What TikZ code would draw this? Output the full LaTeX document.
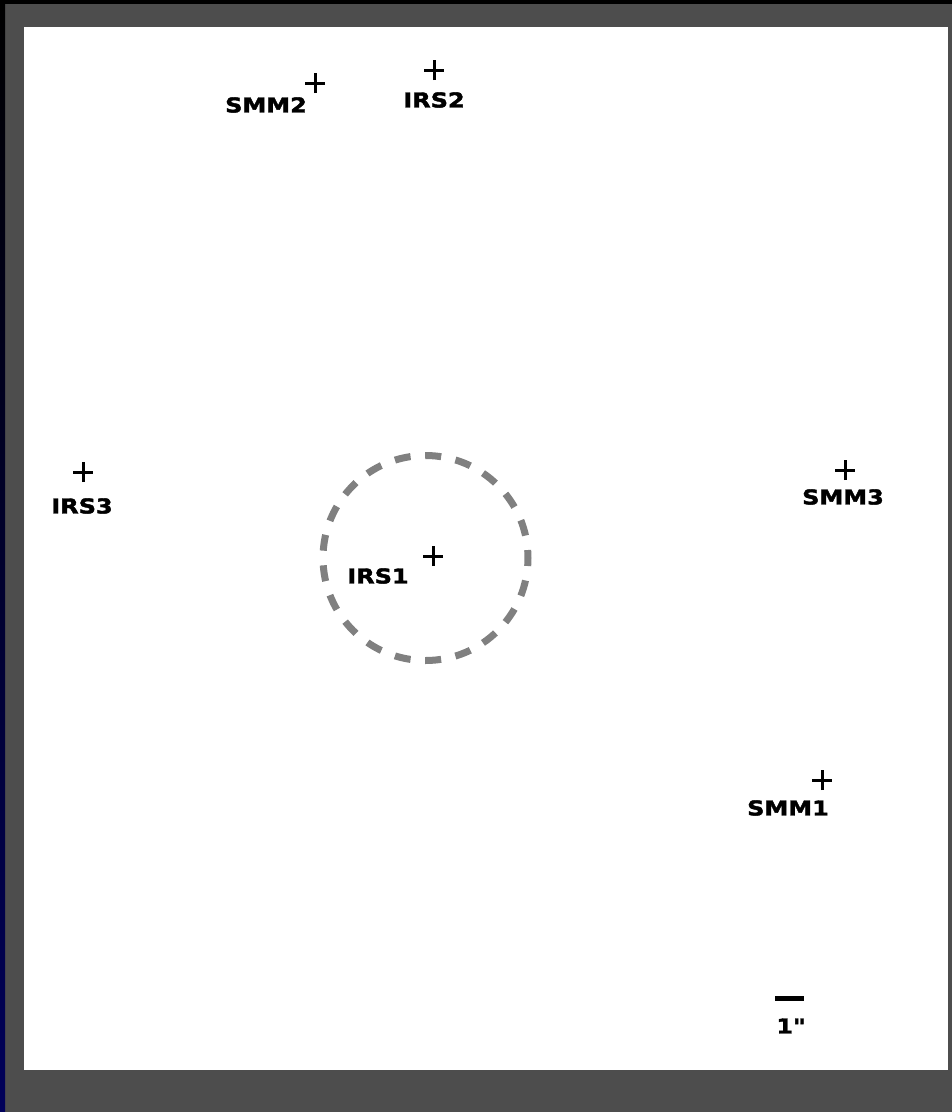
\documentclass[tikz,border=0pt]{standalone}
\usepackage{fontspec}
\newfontfamily\lblfont[FakeStretch=1.17,FakeBold=2]{DejaVu Sans Bold}
\definecolor{frame}{HTML}{4D4D4D}
\definecolor{ringgray}{HTML}{808080}
\begin{document}
\begin{tikzpicture}[x=1pt,y=-1pt,
  lbl/.style={font=\lblfont\fontsize{20.5}{20.5}\selectfont, inner sep=0pt, text=black},
  crossmark/.style={line width=3pt, black}]
\useasboundingbox (0,0) rectangle (952,1112);
\fill[frame] (0,0) rectangle (952,1112);
\fill[black] (0,0) rectangle (952,4);
\shade[top color=black, bottom color={rgb,255:red,0;green,0;blue,90}] (0,4) rectangle (5,1112);
\fill[white] (24,27) rectangle (948,1070);
% sources
\foreach \n/\x/\y in {smmtwo/315/83, irstwo/434/70, irsthree/83/472, smmthree/845/470, irsone/433/556, smmone/822/780}{
  \coordinate (\n) at (\x,\y);
  \draw[crossmark] ([xshift=-10pt]\n) -- ([xshift=10pt]\n);
  \draw[crossmark] ([yshift=-10pt]\n) -- ([yshift=10pt]\n);
}
\node[lbl] (lsmmtwo) at (266,105) {SMM2};
\node[lbl] (lirstwo) at (434,100) {IRS2};
\node[lbl] (lirsthree) at (82,506) {IRS3};
\node[lbl] (lsmmthree) at (843,497) {SMM3};
\node[lbl] (lirsone) at (378,576) {IRS1};
\node[lbl] (lsmmone) at (788,808) {SMM1};
% ring
\coordinate (ringc) at (425.5,558);
\draw[ringgray, line width=7pt, dash pattern=on 16pt off 14.67pt, dash phase=8pt] (ringc) circle[radius=102.5];
% scale bar
\coordinate (barl) at (775,998);
\coordinate (barr) at (804,998);
\draw[black, line width=5pt] (barl) -- (barr);
\node[lbl] (lbar) at (791,1026) {1"};
\end{tikzpicture}
\end{document}
